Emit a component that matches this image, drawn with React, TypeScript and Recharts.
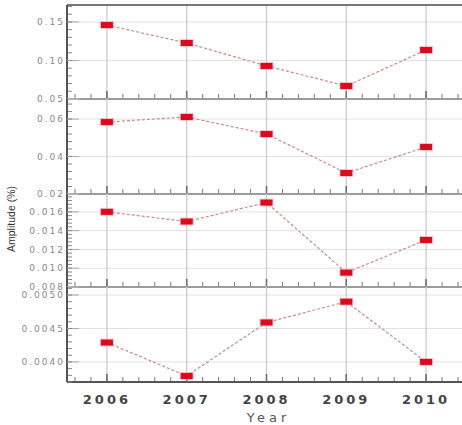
import React from 'react';
import { LineChart, Line, XAxis, YAxis, CartesianGrid, ReferenceLine } from 'recharts';

const years = [2006, 2007, 2008, 2009, 2010];
const amp1 = [0.146, 0.1227, 0.0929, 0.0669, 0.1136];
const amp2 = [0.0584, 0.0611, 0.052, 0.0312, 0.0451];
const amp3 = [0.016, 0.01497, 0.01699, 0.00953, 0.01301];
const amp4 = [0.00429, 0.00379, 0.00459, 0.0049, 0.004];

const ticks1 = [0.05, 0.1, 0.15];
const ticks2 = [0.02, 0.04, 0.06];
const ticks3 = [0.008, 0.01, 0.012, 0.014, 0.016];
const ticks4 = [0.004, 0.0045, 0.005];

const xDomain: [number, number] = [2005.5, 2010.45];

function minorTicks(d: [number, number], step: number): number[] {
  const out: number[] = [];
  const a = Math.ceil(d[0] / step - 1e-9);
  const b = Math.floor(d[1] / step + 1e-9);
  for (let i = a; i <= b; i++) out.push(+(i * step).toPrecision(10));
  return out;
}

const xMinor = minorTicks(xDomain, 0.2);

const NoLabel = () => <g />;

const Marker = (p: any) => {
  if (p.cx == null || p.cy == null) return null;
  return (
    <g key={p.key}>
      <rect x={p.cx - 7} y={p.cy - 4} width={14} height={8} fill="#f4a0a6" opacity={0.6} />
      <rect x={p.cx - 6} y={p.cy - 3} width={12} height={6} fill="#dc0a1e" />
    </g>
  );
};

type PanelProps = {
  values: number[];
  domain: [number, number];
  ticks: number[];
  minorStep: number;
  decimals: number;
  top: number;
  bottom: number;
  first?: boolean;
  last?: boolean;
};

function Panel({ values, domain, ticks, minorStep, decimals, top, bottom, first, last }: PanelProps) {
  const data = years.map((y, i) => ({ year: y, v: values[i] }));
  const mt = 5;
  const mb = last ? 0 : 5;
  const labH = last ? 425 - bottom : 0;
  const h = bottom - top + mt + mb + labH;
  const yMinor = minorTicks(domain, minorStep);
  return (
    <div style={{ position: 'absolute', left: 0, top: top - mt }}>
      <LineChart width={462} height={h} data={data} margin={{ top: mt, right: 0, bottom: mb, left: 0 }}>
        <CartesianGrid stroke="#e2e2e2" strokeWidth={1} vertical={false} />
        {years.map((y) => (
          <ReferenceLine key={y} x={y} xAxisId={0} yAxisId={0} stroke="#cccccc" strokeWidth={1.3} />
        ))}
        <XAxis
          xAxisId={0}
          dataKey="year"
          type="number"
          domain={xDomain}
          ticks={years}
          interval={0}
          allowDataOverflow
          mirror
          height={1}
          tick={<NoLabel />}
          tickSize={8}
          tickLine={{ stroke: '#666', strokeWidth: 1.5 }}
          axisLine={{ stroke: '#555', strokeWidth: 2 }}
        />
        <XAxis
          xAxisId="minor"
          dataKey="year"
          type="number"
          domain={xDomain}
          ticks={xMinor}
          interval={0}
          allowDataOverflow
          mirror
          height={1}
          tick={<NoLabel />}
          tickSize={4}
          tickLine={{ stroke: '#777', strokeWidth: 1 }}
          axisLine={false}
        />
        {first && (
          <XAxis
            xAxisId="top"
            dataKey="year"
            orientation="top"
            type="number"
            domain={xDomain}
            allowDataOverflow
            mirror
            height={1}
            tick={<NoLabel />}
            tickLine={false}
            axisLine={{ stroke: '#777', strokeWidth: 2 }}
          />
        )}
        {last && (
          <XAxis
            xAxisId="lab"
            dataKey="year"
            type="number"
            domain={xDomain}
            ticks={years}
            interval={0}
            allowDataOverflow
            height={labH}
            tickLine={false}
            axisLine={false}
            tickSize={0}
            tickMargin={13}
            tick={{ fontSize: 13, fontWeight: 'bold', fill: '#444', fontFamily: 'DejaVu Sans', letterSpacing: 3 } as any}
            label={{
              value: 'Year',
              position: 'insideBottom',
              offset: 3,
              dx: 4,
              style: { fontSize: 13, fill: '#555', fontFamily: 'DejaVu Sans', letterSpacing: 4 },
            } as any}
          />
        )}
        <YAxis
          yAxisId={0}
          dataKey="v"
          type="number"
          domain={domain}
          ticks={ticks}
          interval={0}
          allowDataOverflow
          width={67}
          tickFormatter={(v: number) => v.toFixed(decimals)}
          tickSize={0}
          tickMargin={2}
          tickLine={false}
          axisLine={{ stroke: '#555', strokeWidth: 2 }}
          tick={{ fontSize: 9, fill: '#888', fontFamily: 'DejaVu Sans', letterSpacing: 2 } as any}
        />
        <YAxis
          yAxisId="majin"
          dataKey="v"
          type="number"
          domain={domain}
          ticks={ticks}
          interval={0}
          allowDataOverflow
          mirror
          width={1}
          tick={<NoLabel />}
          tickSize={12}
          tickLine={{ stroke: '#aaa', strokeWidth: 1 }}
          axisLine={false}
        />
        <YAxis
          yAxisId="minor"
          dataKey="v"
          type="number"
          domain={domain}
          ticks={yMinor}
          interval={0}
          allowDataOverflow
          mirror
          width={1}
          tick={<NoLabel />}
          tickSize={4}
          tickLine={{ stroke: '#888', strokeWidth: 1 }}
          axisLine={false}
        />
        <Line
          xAxisId={0}
          yAxisId={0}
          type="linear"
          dataKey="v"
          stroke="#c98a8e"
          strokeWidth={1.2}
          strokeDasharray="3 2"
          dot={<Marker />}
          activeDot={false}
          isAnimationActive={false}
        />
      </LineChart>
    </div>
  );
}

export default function App() {
  return (
    <div style={{ position: 'absolute', left: 0, top: 0, width: 462, height: 425, background: '#fff', overflow: 'hidden' }}>
      <Panel values={amp1} domain={[0.05, 0.172]} ticks={ticks1} minorStep={0.01} decimals={2} top={5} bottom={99} first />
      <Panel values={amp2} domain={[0.02, 0.0707]} ticks={ticks2} minorStep={0.004} decimals={2} top={99} bottom={194} />
      <Panel values={amp3} domain={[0.008, 0.0179]} ticks={ticks3} minorStep={0.0004} decimals={3} top={194} bottom={287} />
      <Panel values={amp4} domain={[0.0037, 0.00512]} ticks={ticks4} minorStep={0.0001} decimals={4} top={287} bottom={382} last />
      <svg width={30} height={425} style={{ position: 'absolute', left: 0, top: 0 }}>
        <text
          x={11}
          y={219}
          transform="rotate(-90, 11, 219)"
          textAnchor="middle"
          dominantBaseline="central"
          fontSize={10.5}
          fontFamily="Liberation Sans"
          fill="#333"
        >
          Amplitude (%)
        </text>
      </svg>
    </div>
  );
}
